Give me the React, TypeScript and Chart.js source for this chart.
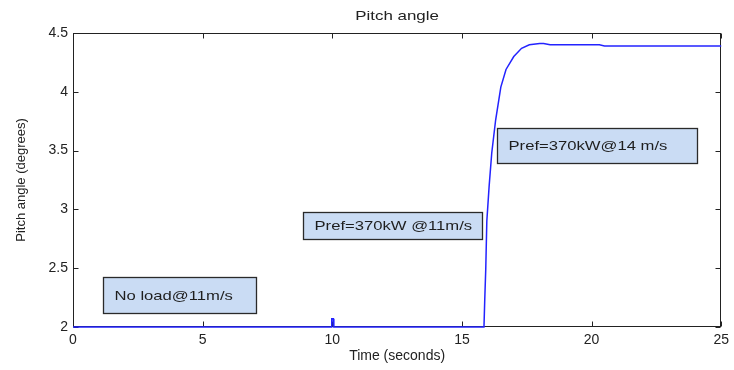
import React, { useEffect, useRef } from 'react';
import { Chart, registerables } from 'chart.js';

Chart.register(...registerables);

// ---- data ----
const timeSeconds = [0, 6.9, 9.96, 9.98, 10.04, 10.06, 15.85, 15.88, 15.92, 15.96, 16.05, 16.15, 16.3, 16.5, 16.7, 17.0, 17.3, 17.6, 18.0, 18.15, 18.4, 20.3, 20.5, 25];
const pitchDegrees = [2, 2, 2, 2.07, 2.07, 2, 2, 2.23, 2.5, 2.9, 3.2, 3.48, 3.76, 4.04, 4.19, 4.3, 4.37, 4.4, 4.41, 4.41, 4.4, 4.4, 4.39, 4.39];
const xTickValues = [0, 5, 10, 15, 20, 25];
const yTickValues = [2, 2.5, 3, 3.5, 4, 4.5];
const xTickLabels = ['0', '5', '10', '15', '20', '25'];
const yTickLabels = ['2', '2.5', '3', '3.5', '4', '4.5'];
const chartTitle = 'Pitch angle';
const xAxisTitle = 'Time (seconds)';
const yAxisTitle = 'Pitch angle (degrees)';
const annotationTexts = ['No load@11m/s', 'Pref=370kW @11m/s', 'Pref=370kW@14 m/s'];
// annotation boxes in data coordinates [x0, x1, yLow, yHigh]
const annotationX0 = [1.14, 8.86, 16.36];
const annotationX1 = [7.07, 15.78, 24.05];
const annotationYLow = [2.117, 2.745, 3.397];
const annotationYHigh = [2.423, 2.98, 3.69];

const FONT = '"Liberation Sans", Arial, Helvetica, sans-serif';

const framePlugin = {
  id: 'matlabFrame',
  beforeDatasetsDraw(chart: any) {
    const { ctx, chartArea: a, scales } = chart;
    ctx.save();
    ctx.strokeStyle = '#222';
    ctx.lineWidth = 1;
    const L = Math.round(a.left) + 0.5;
    const R = Math.round(a.right) - 0.5;
    const T = Math.round(a.top) + 0.5;
    const B = Math.round(a.bottom) - 0.5;
    ctx.strokeRect(L, T, R - L, B - T);
    const tl = 5;
    ctx.beginPath();
    for (const v of xTickValues) {
      const px = Math.round(scales.x.getPixelForValue(v)) + 0.5;
      ctx.moveTo(px, B);
      ctx.lineTo(px, B - tl);
      ctx.moveTo(px, T);
      ctx.lineTo(px, T + tl);
    }
    for (const v of yTickValues) {
      const py = Math.round(scales.y.getPixelForValue(v)) + 0.5;
      ctx.moveTo(L, py);
      ctx.lineTo(L + tl, py);
      ctx.moveTo(R, py);
      ctx.lineTo(R - tl, py);
    }
    ctx.stroke();
    ctx.restore();
  },
  afterDatasetsDraw(chart: any) {
    const { ctx, chartArea: a, scales } = chart;
    ctx.save();
    ctx.fillStyle = '#222';
    ctx.font = `13px ${FONT}`;
    ctx.textBaseline = 'middle';
    ctx.textAlign = 'center';
    const cx = (a.left + a.right) / 2;
    ctx.translate(cx, 16);
    ctx.scale(1.3, 1);
    ctx.fillText(chartTitle, 0, 0);
    ctx.restore();

    for (let i = 0; i < annotationTexts.length; i++) {
      const x0 = Math.round(scales.x.getPixelForValue(annotationX0[i])) + 0.5;
      const x1 = Math.round(scales.x.getPixelForValue(annotationX1[i])) + 0.5;
      const y0 = Math.round(scales.y.getPixelForValue(annotationYHigh[i])) + 0.5;
      const y1 = Math.round(scales.y.getPixelForValue(annotationYLow[i])) + 0.5;
      ctx.save();
      ctx.fillStyle = '#cadcf4';
      ctx.fillRect(x0, y0, x1 - x0, y1 - y0);
      ctx.strokeStyle = '#2a2a2a';
      ctx.lineWidth = 1.3;
      ctx.strokeRect(x0, y0, x1 - x0, y1 - y0);
      ctx.fillStyle = '#1e1e1e';
      ctx.font = `13px ${FONT}`;
      ctx.textBaseline = 'middle';
      ctx.textAlign = 'left';
      ctx.translate(x0 + 11, (y0 + y1) / 2 + 0.5);
      ctx.scale(1.28, 1);
      ctx.fillText(annotationTexts[i], 0, 0);
      ctx.restore();
    }
  },
};

export default function App() {
  const canvasRef = useRef<HTMLCanvasElement | null>(null);

  useEffect(() => {
    if (!canvasRef.current) return;
    const points = timeSeconds.map((t, i) => ({ x: t, y: pitchDegrees[i] }));
    const chart = new Chart(canvasRef.current, {
      type: 'line',
      data: {
        datasets: [
          {
            data: points,
            borderColor: '#2323ff',
            borderWidth: 1.5,
            pointRadius: 0,
            tension: 0,
            fill: false,
            clip: false as any,
          },
        ],
      },
      options: {
        animation: false,
        responsive: false,
        devicePixelRatio: 1,
        layout: { padding: { top: 33, right: 11, left: 0, bottom: 0 } },
        plugins: {
          legend: { display: false },
          tooltip: { enabled: false },
          title: { display: false },
        },
        scales: {
          x: {
            type: 'linear',
            min: 0,
            max: 25,
            afterBuildTicks: (s: any) => {
              s.ticks = xTickValues.map((v) => ({ value: v }));
            },
            afterFit: (s: any) => {
              s.height = 43;
            },
            grid: { display: false, drawTicks: false },
            border: { display: false },
            ticks: {
              color: '#222',
              padding: 5,
              maxRotation: 0,
              font: { family: FONT, size: 14 },
              callback: (v: any) => xTickLabels[xTickValues.indexOf(Number(v))] ?? String(v),
            },
            title: {
              display: true,
              text: xAxisTitle,
              color: '#222',
              font: { family: FONT, size: 14 },
              padding: { top: 0, bottom: 5 },
            },
          },
          y: {
            type: 'linear',
            min: 2,
            max: 4.5,
            afterBuildTicks: (s: any) => {
              s.ticks = yTickValues.map((v) => ({ value: v }));
            },
            afterFit: (s: any) => {
              s.width = 73;
            },
            grid: { display: false, drawTicks: false },
            border: { display: false },
            ticks: {
              color: '#222',
              padding: 5,
              font: { family: FONT, size: 14 },
              callback: (v: any) => yTickLabels[yTickValues.indexOf(Number(v))] ?? String(v),
            },
            title: {
              display: true,
              text: yAxisTitle,
              color: '#222',
              font: { family: FONT, size: 13 },
              padding: { top: 14, bottom: 0 },
            },
          },
        },
      },
      plugins: [framePlugin],
    });
    return () => chart.destroy();
  }, []);

  return (
    <div style={{ position: 'fixed', left: 0, top: 0, width: 734, height: 370, background: '#fff' }}>
      <canvas ref={canvasRef} width={734} height={370} style={{ display: 'block' }} />
    </div>
  );
}
